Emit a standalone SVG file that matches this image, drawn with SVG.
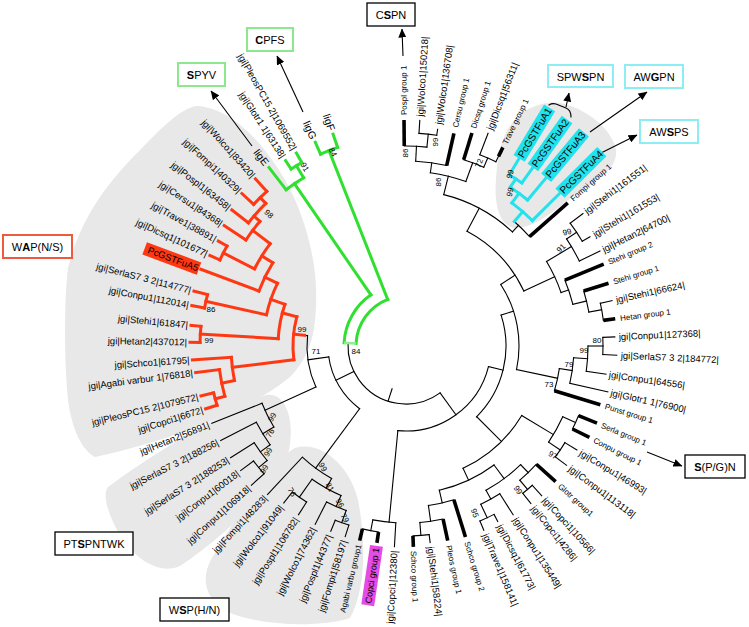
<svg xmlns="http://www.w3.org/2000/svg" width="749" height="627" viewBox="0 0 749 627">
<style>
.k{fill:none;stroke:#000;stroke-width:1.1;stroke-linecap:square}
.t{fill:none;stroke:#000;stroke-width:3.6}
.r{fill:none;stroke:#ff3814;stroke-width:3;stroke-linecap:square}
.gn{fill:none;stroke:#30e030;stroke-width:3;stroke-linecap:square}
.c{fill:none;stroke:#22e2ee;stroke-width:3;stroke-linecap:square}
.lg{fill:none;stroke:#90ee90;stroke-width:2.5}
text{font-family:"Liberation Sans",Arial,Helvetica,sans-serif;fill:#000}
.lb{font-size:9.5px}
.sg{font-size:8px}
.lig{font-size:10.5px}
.bs{font-size:8px;text-anchor:middle}
.e{text-anchor:end}
.bx{font-size:11px;text-anchor:middle}
.bb{fill:#fff;stroke:#000;stroke-width:1.3}
.bg{fill:#fff;stroke:#8de88d;stroke-width:2}
.bc{fill:#fff;stroke:#8ceef2;stroke-width:2}
.brd{fill:#fff;stroke:#ee5a3c;stroke-width:2}
.ar{fill:none;stroke:#000;stroke-width:1.1;marker-end:url(#ah)}
.blob{fill:#e8e8e8}
</style>
<defs>
<marker id="ah" markerWidth="9" markerHeight="8" refX="8.5" refY="4" orient="auto" markerUnits="userSpaceOnUse"><path d="M0,0 L9,4 L0,8 Z" fill="#000"/></marker>
</defs>
<rect width="749" height="627" fill="#fff"/>
<g id="clade-shading">
<path class="blob" d="M197,106 C230,108 262,140 285,180 C305,215 318,262 316,305 C315,335 310,355 292,375 C260,405 175,440 95,457 C82,450 72,430 68,400 C64,360 64,300 68,268 C80,220 105,185 140,150 C160,130 180,108 197,106 Z"/>
<path class="blob" d="M108,487 C150,455 230,408 266,395 C285,392 295,418 289,450 C280,485 220,540 180,566 C160,575 135,560 120,535 C108,515 102,495 108,487 Z"/>
<path class="blob" d="M295,448 C320,440 350,465 358,500 C366,540 366,590 350,618 C320,628 260,626 228,612 C205,600 200,578 212,558 C235,520 268,462 295,448 Z"/>
<path class="blob" d="M503,140 C512,112 540,100 560,103 C585,108 612,128 616,150 C618,168 598,180 575,195 C555,210 535,228 515,228 C498,226 494,200 496,180 C497,162 499,150 503,140 Z"/>
</g>
<g id="connectors" transform="translate(406,346)">
<g class="k">
<circle r="58" transform="rotate(54)" stroke-dasharray="129.57 2000"/>
<line x1="45" x2="58" transform="rotate(108)"/>
<line x1="58" x2="85" transform="rotate(54)"/>
<circle r="85" transform="rotate(14)" stroke-dasharray="120.91 2000"/>
<line x1="85" x2="177" transform="rotate(95.5)"/>
<line x1="85" x2="100" transform="rotate(14)"/>
<circle r="100" transform="rotate(-18)" stroke-dasharray="109.96 2000"/>
<line x1="100" x2="135" transform="rotate(45)"/>
<line x1="100" x2="113" transform="rotate(-18)"/>
<circle r="113" transform="rotate(-33)" stroke-dasharray="88.75 2000"/>
<line x1="113" x2="155" transform="rotate(12)"/>
<line x1="113" x2="130" transform="rotate(-33)"/>
<circle r="130" transform="rotate(-62)" stroke-dasharray="83.95 2000"/>
<line x1="130" x2="164" transform="rotate(-25)"/>
<line x1="130" x2="156" transform="rotate(-62)"/>
<circle r="156" transform="rotate(-76)" stroke-dasharray="78.96 2000"/>
<line x1="156" x2="175" transform="rotate(-76)"/>
<line x1="156" x2="165" transform="rotate(-47)"/>
<line x1="58" x2="78" transform="rotate(154)"/>
<circle r="78" transform="rotate(126.5)" stroke-dasharray="61.94 2000"/>
<line x1="78" x2="152" transform="rotate(126.5)"/>
<line x1="78" x2="99" transform="rotate(172)"/>
<circle r="99" transform="rotate(155.5)" stroke-dasharray="52.70 2000"/>
<line x1="99" x2="155" transform="rotate(155.5)"/>
<line x1="99" x2="102" transform="rotate(186)"/>
<!-- PTSPNTWK clade -->
<circle r="155" transform="rotate(148.5)" stroke-dasharray="26.51 2000"/>
<line x1="155" x2="209" transform="rotate(158.3)"/>
<line x1="155" x2="168" transform="rotate(148.5)"/>
<circle r="168" transform="rotate(144)" stroke-dasharray="26.39 2000"/>
<line x1="168" x2="208" transform="rotate(153)"/>
<line x1="168" x2="180" transform="rotate(144)"/>
<circle r="180" transform="rotate(140.5)" stroke-dasharray="21.99 2000"/>
<line x1="180" x2="208" transform="rotate(147.5)"/>
<line x1="180" x2="191" transform="rotate(140.5)"/>
<circle r="191" transform="rotate(138)" stroke-dasharray="16.67 2000"/>
<line x1="191" x2="207" transform="rotate(143)"/>
<line x1="191" x2="208" transform="rotate(138)"/>
<!-- WSP clade -->
<circle r="152" transform="rotate(119.3)" stroke-dasharray="36.34 2000"/>
<line x1="152" x2="203" transform="rotate(133)"/>
<line x1="152" x2="163" transform="rotate(119.3)"/>
<circle r="163" transform="rotate(113.5)" stroke-dasharray="33.28 2000"/>
<line x1="163" x2="185" transform="rotate(125.2)"/>
<circle r="185" transform="rotate(122.5)" stroke-dasharray="17.44 2000"/>
<line x1="185" x2="200" transform="rotate(122.5)"/>
<line x1="185" x2="199" transform="rotate(127.9)"/>
<line x1="163" x2="175" transform="rotate(113.5)"/>
<circle r="175" transform="rotate(110)" stroke-dasharray="21.38 2000"/>
<line x1="175" x2="200" transform="rotate(117)"/>
<line x1="175" x2="188" transform="rotate(110)"/>
<circle r="188" transform="rotate(107.7)" stroke-dasharray="14.44 2000"/>
<line x1="188" x2="200" transform="rotate(107.7)"/>
<line x1="188" x2="200" transform="rotate(112.1)"/>
<!-- Copci clade -->
<circle r="177" transform="rotate(93.3)" stroke-dasharray="23.17 2000"/>
<line x1="177" x2="201" transform="rotate(93.3)"/>
<line x1="177" x2="188" transform="rotate(100.8)"/>
<circle r="188" transform="rotate(98.4)" stroke-dasharray="16.41 2000"/>
<!-- bottom right -->
<circle r="135" transform="rotate(31)" stroke-dasharray="80.11 2000"/>
<line x1="135" x2="172" transform="rotate(31)"/>
<circle r="172" transform="rotate(24.3)" stroke-dasharray="29.12 2000"/>
<line x1="172" x2="186" transform="rotate(24.3)"/>
<circle r="186" transform="rotate(22)" stroke-dasharray="14.61 2000"/>
<line x1="172" x2="186" transform="rotate(34)"/>
<circle r="186" transform="rotate(31.3)" stroke-dasharray="17.21 2000"/>
<line x1="186" x2="200" transform="rotate(31.3)"/>
<line x1="186" x2="200" transform="rotate(36.6)"/>
<line x1="135" x2="148" transform="rotate(65)"/>
<circle r="148" transform="rotate(53.5)" stroke-dasharray="60.70 2000"/>
<line x1="148" x2="161" transform="rotate(77)"/>
<circle r="161" transform="rotate(72.7)" stroke-dasharray="26.13 2000"/>
<line x1="161" x2="177" transform="rotate(82)"/>
<circle r="177" transform="rotate(77.9)" stroke-dasharray="23.48 2000"/>
<line x1="177" x2="190" transform="rotate(85.5)"/>
<circle r="190" transform="rotate(83)" stroke-dasharray="16.25 2000"/>
<line x1="190" x2="198" transform="rotate(83)"/>
<line x1="148" x2="165" transform="rotate(53.5)"/>
<circle r="165" transform="rotate(46)" stroke-dasharray="43.2 2000"/>
<line x1="165" x2="176" transform="rotate(46)"/>
<circle r="176" transform="rotate(42.2)" stroke-dasharray="23.04 2000"/>
<line x1="176" x2="188" transform="rotate(49.7)"/>
<circle r="188" transform="rotate(47.8)" stroke-dasharray="12.47 2000"/>
<line x1="188" x2="202" transform="rotate(47.8)"/>
<line x1="188" x2="201" transform="rotate(51.6)"/>
<line x1="165" x2="175" transform="rotate(61)"/>
<circle r="175" transform="rotate(57.6)" stroke-dasharray="21.69 2000"/>
<line x1="175" x2="200" transform="rotate(57.6)"/>
<line x1="175" x2="190" transform="rotate(64.7)"/>
<circle r="190" transform="rotate(62.4)" stroke-dasharray="15.59 2000"/>
<line x1="190" x2="198" transform="rotate(62.4)"/>
<line x1="190" x2="200" transform="rotate(67.1)"/>
<!-- Conpu / Punst -->
<circle r="155" transform="rotate(8.4)" stroke-dasharray="22.72 2000"/>
<line x1="155" x2="168" transform="rotate(8.4)"/>
<circle r="168" transform="rotate(4)" stroke-dasharray="25.8 2000"/>
<line x1="168" x2="207" transform="rotate(12.8)"/>
<line x1="168" x2="182" transform="rotate(4)"/>
<circle r="182" transform="rotate(0)" stroke-dasharray="25.41 2000"/>
<line x1="182" x2="202" transform="rotate(8)"/>
<line x1="182" x2="197" transform="rotate(0)"/>
<circle r="197" transform="rotate(-2.5)" stroke-dasharray="17.19 2000"/>
<line x1="197" x2="209" transform="rotate(-2.5)"/>
<line x1="197" x2="211" transform="rotate(2.5)"/>
<!-- Stehi -->
<circle r="164" transform="rotate(-31)" stroke-dasharray="34.35 2000"/>
<line x1="164" x2="193" transform="rotate(-31)"/>
<circle r="193" transform="rotate(-33.7)" stroke-dasharray="25.6 2000"/>
<line x1="193" x2="216" transform="rotate(-26.1)"/>
<line x1="193" x2="205" transform="rotate(-33.7)"/>
<circle r="205" transform="rotate(-36.8)" stroke-dasharray="21.83 2000"/>
<line x1="205" x2="221" transform="rotate(-36.8)"/>
<line x1="205" x2="214" transform="rotate(-30.7)"/>
<line x1="164" x2="172" transform="rotate(-19)"/>
<circle r="172" transform="rotate(-22.5)" stroke-dasharray="25.52 2000"/>
<line x1="172" x2="186" transform="rotate(-14)"/>
<circle r="186" transform="rotate(-17.2)" stroke-dasharray="21.75 2000"/>
<line x1="186" x2="199" transform="rotate(-10.5)"/>
<circle r="199" transform="rotate(-12.4)" stroke-dasharray="17.37 2000"/>
<line x1="199" x2="211" transform="rotate(-12.4)"/>
<!-- cyan base / Fompi -->
<circle r="165" transform="rotate(-49)" stroke-dasharray="21.6 2000"/>
<!-- top clade -->
<circle r="175" transform="rotate(-82)" stroke-dasharray="36.65 2000"/>
<line x1="175" x2="185" transform="rotate(-82)"/>
<circle r="185" transform="rotate(-87)" stroke-dasharray="31.32 2000"/>
<line x1="185" x2="200" transform="rotate(-87)"/>
<circle r="200" transform="rotate(-90.5)" stroke-dasharray="22.69 2000"/>
<line x1="200" x2="213" transform="rotate(-84)"/>
<circle r="213" transform="rotate(-86.5)" stroke-dasharray="17.84 2000"/>
<line x1="213" x2="226" transform="rotate(-86.5)"/>
<line x1="213" x2="219" transform="rotate(-81.7)"/>
<line x1="175" x2="195" transform="rotate(-70)"/>
<circle r="195" transform="rotate(-72.8)" stroke-dasharray="21.44 2000"/>
<line x1="195" x2="205" transform="rotate(-66.5)"/>
<circle r="205" transform="rotate(-68.9)" stroke-dasharray="17.53 2000"/>
<line x1="205" x2="228" transform="rotate(-68.9)"/>
<line x1="205" x2="211" transform="rotate(-64)"/>
</g>
<g class="t">
<line x1="188" x2="199" transform="rotate(98.4)"/>
<line x1="188" x2="200" transform="rotate(103.4)"/>
<line x1="186" x2="206" transform="rotate(22)"/>
<line x1="186" x2="205" transform="rotate(26.5)"/>
<line x1="161" x2="200" transform="rotate(72.7)"/>
<line x1="177" x2="199" transform="rotate(77.9)"/>
<line x1="190" x2="201" transform="rotate(87.9)"/>
<line x1="176" x2="202" transform="rotate(42.2)"/>
<line x1="155" x2="203" transform="rotate(16.8)"/>
<line x1="172" x2="214" transform="rotate(-22.5)"/>
<line x1="186" x2="212" transform="rotate(-17.2)"/>
<line x1="199" x2="211" transform="rotate(-7.4)"/>
<line x1="165" x2="216" transform="rotate(-41.5)"/>
<line x1="185" x2="218" transform="rotate(-77.3)"/>
<line x1="200" x2="226" transform="rotate(-90.5)"/>
<line x1="195" x2="223" transform="rotate(-72.8)"/>
<line x1="211" x2="221" transform="rotate(-64)"/>
</g>
<g class="gn">
<circle r="50" transform="rotate(183)" stroke-dasharray="57.16 2000"/>
<circle r="62" transform="rotate(183)" stroke-dasharray="56.81 2000"/>
<line x1="50" x2="210" transform="rotate(248.5)"/>
<line x1="62" x2="197" transform="rotate(235.5)"/>
<circle r="210" transform="rotate(246)" stroke-dasharray="18.33 2000"/>
<line x1="210" x2="223" transform="rotate(246)"/>
<line x1="210" x2="224" transform="rotate(251)"/>
<circle r="197" transform="rotate(232.5)" stroke-dasharray="21.32 2000"/>
<line x1="197" x2="225" transform="rotate(232.5)"/>
<line x1="197" x2="211" transform="rotate(238.7)"/>
<circle r="211" transform="rotate(237)" stroke-dasharray="12.52 2000"/>
<line x1="211" x2="221" transform="rotate(237)"/>
<line x1="211" x2="222" transform="rotate(240.4)"/>
</g>
<line class="lg" x1="50" x2="62" transform="rotate(183)"/>
<g class="r">
<line x1="102" x2="113" transform="rotate(186)"/>
<circle r="113" transform="rotate(173)" stroke-dasharray="43.39 2000"/>
<line x1="113" x2="128" transform="rotate(195)"/>
<circle r="128" transform="rotate(183.3)" stroke-dasharray="35.07 2000"/>
<line x1="128" x2="206" transform="rotate(183.3)"/>
<circle r="206" transform="rotate(181)" stroke-dasharray="16.18 2000"/>
<line x1="206" x2="216" transform="rotate(181)"/>
<line x1="206" x2="216" transform="rotate(185.5)"/>
<line x1="128" x2="143" transform="rotate(199)"/>
<circle r="143" transform="rotate(192.6)" stroke-dasharray="33.44 2000"/>
<line x1="143" x2="205" transform="rotate(192.6)"/>
<circle r="205" transform="rotate(190.7)" stroke-dasharray="13.6 2000"/>
<line x1="205" x2="218" transform="rotate(190.7)"/>
<line x1="205" x2="219" transform="rotate(194.5)"/>
<line x1="143" x2="157" transform="rotate(206)"/>
<circle r="157" transform="rotate(200.5)" stroke-dasharray="31.51 2000"/>
<line x1="157" x2="219" transform="rotate(200.5)"/>
<line x1="157" x2="170" transform="rotate(212)"/>
<circle r="170" transform="rotate(207)" stroke-dasharray="29.67 2000"/>
<line x1="170" x2="205" transform="rotate(207)"/>
<circle r="205" transform="rotate(204.8)" stroke-dasharray="15.74 2000"/>
<line x1="205" x2="216" transform="rotate(204.8)"/>
<line x1="205" x2="215" transform="rotate(209.2)"/>
<line x1="170" x2="192" transform="rotate(217)"/>
<circle r="192" transform="rotate(213.5)" stroke-dasharray="23.46 2000"/>
<line x1="192" x2="218" transform="rotate(213.5)"/>
<line x1="192" x2="200" transform="rotate(220.5)"/>
<circle r="200" transform="rotate(218)" stroke-dasharray="26.18 2000"/>
<line x1="200" x2="221" transform="rotate(218)"/>
<line x1="200" x2="208" transform="rotate(225.5)"/>
<circle r="208" transform="rotate(222.9)" stroke-dasharray="18.51 2000"/>
<line x1="208" x2="224" transform="rotate(222.9)"/>
<line x1="208" x2="225" transform="rotate(228)"/>
<line x1="113" x2="175" transform="rotate(173)"/>
<circle r="175" transform="rotate(168.6)" stroke-dasharray="23.52 2000"/>
<line x1="175" x2="214" transform="rotate(176.3)"/>
<line x1="175" x2="188" transform="rotate(168.6)"/>
<circle r="188" transform="rotate(164.5)" stroke-dasharray="27.23 2000"/>
<line x1="188" x2="212" transform="rotate(172.8)"/>
<line x1="188" x2="198" transform="rotate(164.5)"/>
<circle r="198" transform="rotate(162.6)" stroke-dasharray="12.79 2000"/>
<line x1="198" x2="210" transform="rotate(162.6)"/>
<line x1="198" x2="211" transform="rotate(166.3)"/>
</g>
<g class="c">
<line x1="165" x2="178" transform="rotate(-49)"/>
<circle r="178" transform="rotate(-53.5)" stroke-dasharray="27.03 2000"/>
<line x1="178" x2="216" transform="rotate(-44.8)"/>
<line x1="178" x2="190" transform="rotate(-53.5)"/>
<circle r="190" transform="rotate(-56.7)" stroke-dasharray="21.56 2000"/>
<line x1="190" x2="218" transform="rotate(-50.2)"/>
<line x1="190" x2="200" transform="rotate(-56.7)"/>
<circle r="200" transform="rotate(-58.9)" stroke-dasharray="15.01 2000"/>
<line x1="200" x2="218" transform="rotate(-58.9)"/>
<line x1="200" x2="218" transform="rotate(-54.6)"/>
</g>
</g>
<g id="arrows">
<path class="k" d="M549,105 Q552,103 556,104 L566,108 Q571,110 571,117"/>
<line class="ar" x1="403" y1="56" x2="402" y2="29"/>
<line class="ar" x1="252" y1="146" x2="211" y2="91"/>
<line class="ar" x1="303" y1="112" x2="277" y2="56"/>
<line class="ar" x1="566" y1="107" x2="569" y2="93"/>
<line class="ar" x1="590" y1="132" x2="647" y2="92"/>
<line class="ar" x1="599" y1="154" x2="637" y2="135"/>
<line class="ar" x1="647" y1="452" x2="682" y2="466"/>
</g>
<g id="box-CSPN"><rect class="bb" x="367" y="3" width="48" height="23"/><text class="bx" x="391" y="19">C<tspan font-weight="bold">S</tspan>PN</text></g>
<g id="box-CPFS"><rect class="bg" x="247" y="28" width="46" height="23"/><text class="bx" x="270" y="44"><tspan font-weight="bold">C</tspan>PFS</text></g>
<g id="box-SPYV"><rect class="bg" x="178" y="63" width="47" height="23"/><text class="bx" x="201.5" y="79"><tspan font-weight="bold">S</tspan>PYV</text></g>
<g id="box-SPWSPN"><rect class="bc" x="548" y="65" width="65" height="22"/><text class="bx" x="580.5" y="80.5">SPW<tspan font-weight="bold">S</tspan>PN</text></g>
<g id="box-AWGPN"><rect class="bc" x="625" y="65" width="58" height="23"/><text class="bx" x="654" y="81">AW<tspan font-weight="bold">G</tspan>PN</text></g>
<g id="box-AWSPS"><rect class="bc" x="640" y="120" width="58" height="23"/><text class="bx" x="669" y="136">AW<tspan font-weight="bold">S</tspan>PS</text></g>
<g id="box-SPGN"><rect class="bb" x="685" y="455" width="60" height="23"/><text class="bx" x="715" y="471"><tspan font-weight="bold">S</tspan>(P/G)N</text></g>
<g id="box-PTSPNTWK"><rect class="bb" x="55" y="532" width="78" height="23"/><text class="bx" x="94" y="548">PT<tspan font-weight="bold">S</tspan>PNTWK</text></g>
<g id="box-WSPHN"><rect class="bb" x="160" y="598" width="69" height="23"/><text class="bx" x="194.5" y="614">W<tspan font-weight="bold">S</tspan>P(H/N)</text></g>
<g id="box-WAPNS"><rect class="brd" x="3" y="235" width="69" height="23"/><text class="bx" x="37.5" y="251">W<tspan font-weight="bold">A</tspan>P(N/S)</text></g>
<g id="leaves">
<g id="l-Pospl-group"><text class="sg" transform="translate(406,346) rotate(-90.5)" x="231" dy=".35em">Pospl group 1</text></g>
<g id="l-Wolco1-150218"><text class="lb" transform="translate(406,346) rotate(-86.5)" x="230" dy=".35em">jgi|Wolco1|150218|</text></g>
<g id="l-Wolco1-136708"><text class="lb" transform="translate(406,346) rotate(-81.7)" x="224" dy=".35em">jgi|Wolco1|136708|</text></g>
<g id="l-Cersu-group"><text class="sg" transform="translate(406,346) rotate(-77.3)" x="224" dy=".35em">Cersu group 1</text></g>
<g id="l-Dicsq-group"><text class="sg" transform="translate(406,346) rotate(-72.8)" x="228" dy=".35em">Dicsq group 1</text></g>
<g id="l-Dicsq1-56311"><text class="lb" transform="translate(406,346) rotate(-68.9)" x="232" dy=".35em">jgi|Dicsq1|56311|</text></g>
<g id="l-Trave-group"><text class="sg" transform="translate(406,346) rotate(-64)" x="225" dy=".35em">Trave group 1</text></g>
<g id="l-PcGSTFuA1" transform="translate(406,346) rotate(-58.9)"><rect x="219" y="-6.5" width="59" height="13" fill="#22e2ee"/><text x="221" dy=".35em" font-size="10">PcGSTFuA1</text></g>
<g id="l-PcGSTFuA2" transform="translate(406,346) rotate(-54.6)"><rect x="219" y="-6.5" width="59" height="13" fill="#22e2ee"/><text x="221" dy=".35em" font-size="10">PcGSTFuA2</text></g>
<g id="l-PcGSTFuA3" transform="translate(406,346) rotate(-50.2)"><rect x="219" y="-6.5" width="59" height="13" fill="#22e2ee"/><text x="221" dy=".35em" font-size="10">PcGSTFuA3</text></g>
<g id="l-PcGSTFuA4" transform="translate(406,346) rotate(-44.8)"><rect x="217" y="-6.5" width="59" height="13" fill="#22e2ee"/><text x="219" dy=".35em" font-size="10">PcGSTFuA4</text></g>
<g id="l-Fompi-group"><text class="sg" transform="translate(406,346) rotate(-41.5)" x="221" dy=".35em">Fompi group 1</text></g>
<g id="l-Stehi1-161551"><text class="lb" transform="translate(406,346) rotate(-36.8)" x="224" dy=".35em">jgi|Stehi1|161551|</text></g>
<g id="l-Stehi1-161553"><text class="lb" transform="translate(406,346) rotate(-30.7)" x="218" dy=".35em">jgi|Stehi1|161553|</text></g>
<g id="l-Hetan2-64700"><text class="lb" transform="translate(406,346) rotate(-26.1)" x="219" dy=".35em">jgi|Hetan2|64700|</text></g>
<g id="l-Stehi-group2"><text class="sg" transform="translate(406,346) rotate(-22.5)" x="219" dy=".35em">Stehi group 2</text></g>
<g id="l-Stehi-group1"><text class="sg" transform="translate(406,346) rotate(-17.2)" x="217" dy=".35em">Stehi group 1</text></g>
<g id="l-Stehi1-66624"><text class="lb" transform="translate(406,346) rotate(-12.4)" x="215" dy=".35em">jgi|Stehi1|66624|</text></g>
<g id="l-Hetan-group1"><text class="sg" transform="translate(406,346) rotate(-7.4)" x="216" dy=".35em">Hetan group 1</text></g>
<g id="l-Conpu1-127368"><text class="lb" transform="translate(406,346) rotate(-2.5)" x="213" dy=".35em">jgi|Conpu1|127368|</text></g>
<g id="l-SerlaS7-184772"><text class="lb" transform="translate(406,346) rotate(2.5)" x="215" dy=".35em">jgi|SerlaS7 3 2|184772|</text></g>
<g id="l-Conpu1-64556"><text class="lb" transform="translate(406,346) rotate(8)" x="205" dy=".35em">jgi|Conpu1|64556|</text></g>
<g id="l-Glotr1-76900"><text class="lb" transform="translate(406,346) rotate(12.8)" x="210" dy=".35em">jgi|Glotr1 1|76900|</text></g>
<g id="l-Punst-group"><text class="sg" transform="translate(406,346) rotate(16.8)" x="208" dy=".35em">Punst group 1</text></g>
<g id="l-Serla-group"><text class="sg" transform="translate(406,346) rotate(22)" x="211" dy=".35em">Serla group 1</text></g>
<g id="l-Conpu-group"><text class="sg" transform="translate(406,346) rotate(26.5)" x="210" dy=".35em">Conpu group 1</text></g>
<g id="l-Conpu1-46993"><text class="lb" transform="translate(406,346) rotate(31.3)" x="204" dy=".35em">jgi|Conpu1|46993|</text></g>
<g id="l-Conpu1-113118"><text class="lb" transform="translate(406,346) rotate(36.6)" x="204" dy=".35em">jgi|Conpu1|113118|</text></g>
<g id="l-Glotr-group"><text class="sg" transform="translate(406,346) rotate(42.2)" x="207" dy=".35em">Glotr group1</text></g>
<g id="l-Copci1-10566"><text class="lb" transform="translate(406,346) rotate(47.8)" x="206" dy=".35em">jgi|Copci1|10566|</text></g>
<g id="l-Copci1-4286"><text class="lb" transform="translate(406,346) rotate(51.6)" x="205" dy=".35em">jgi|Copci1|4286|</text></g>
<g id="l-Conpu1-135449"><text class="lb" transform="translate(406,346) rotate(57.6)" x="204" dy=".35em">jgi|Conpu1|135449|</text></g>
<g id="l-Dicsq1-61773"><text class="lb" transform="translate(406,346) rotate(62.4)" x="202" dy=".35em">jgi|Dicsq1|61773|</text></g>
<g id="l-Trave1-158141"><text class="lb" transform="translate(406,346) rotate(67.1)" x="204" dy=".35em">jgi|Trave1|158141|</text></g>
<g id="l-Schco-group2"><text class="sg" transform="translate(406,346) rotate(72.7)" x="205" dy=".35em">Schco group 2</text></g>
<g id="l-Pleos-group"><text class="sg" transform="translate(406,346) rotate(77.9)" x="204" dy=".35em">Pleos group 1</text></g>
<g id="l-Stehi1-58224"><text class="lb" transform="translate(406,346) rotate(83)" x="202" dy=".35em">jgi|Stehi1|58224|</text></g>
<g id="l-Schco-group1"><text class="sg" transform="translate(406,346) rotate(87.9)" x="205" dy=".35em">Schco group 1</text></g>
<g id="l-Copci1-12380"><text class="lb e" transform="translate(406,346) rotate(-86.7)" x="-205" dy=".35em">jgi|Copci1|12380|</text></g>
<g id="l-Copci-group" transform="translate(406,346) rotate(-81.6)"><rect x="-262" y="-6.5" width="60" height="13" fill="#e54be5"/><text class="e" x="-204" dy=".35em" font-size="9">Copci group 1</text></g>
<g id="l-Agabi-group"><text class="sg e" transform="translate(406,346) rotate(-76.6)" x="-204" dy=".35em">Agabi varbu group1</text></g>
<g id="l-Fompi1-58197"><text class="lb e" transform="translate(406,346) rotate(-72.3)" x="-204" dy=".35em">jgi|Fompi1|58197|</text></g>
<g id="l-Pospl1-44377"><text class="lb e" transform="translate(406,346) rotate(-67.9)" x="-204" dy=".35em">jgi|Pospl1|44377|</text></g>
<g id="l-Wolco1-74362"><text class="lb e" transform="translate(406,346) rotate(-63)" x="-204" dy=".35em">jgi|Wolco1|74362|</text></g>
<g id="l-Pospl1-106782"><text class="lb e" transform="translate(406,346) rotate(-57.5)" x="-204" dy=".35em">jgi|Pospl1|106782|</text></g>
<g id="l-Wolco1-91049"><text class="lb e" transform="translate(406,346) rotate(-52.1)" x="-203" dy=".35em">jgi|Wolco1|91049|</text></g>
<g id="l-Fompi1-48283"><text class="lb e" transform="translate(406,346) rotate(-47)" x="-206" dy=".35em">jgi|Fompi1|48283|</text></g>
<g id="l-Conpu1-106918"><text class="lb e" transform="translate(406,346) rotate(-42)" x="-211" dy=".35em">jgi|Conpu1|106918|</text></g>
<g id="l-Conpu1-60018"><text class="lb e" transform="translate(406,346) rotate(-37)" x="-210" dy=".35em">jgi|Conpu1|60018|</text></g>
<g id="l-SerlaS7-188253"><text class="lb e" transform="translate(406,346) rotate(-32.5)" x="-211" dy=".35em">jgi|SerlaS7 3 2|188253|</text></g>
<g id="l-SerlaS7-188256"><text class="lb e" transform="translate(406,346) rotate(-27)" x="-211" dy=".35em">jgi|SerlaS7 3 2|188256|</text></g>
<g id="l-Hetan2-56891"><text class="lb e" transform="translate(406,346) rotate(-21.7)" x="-212" dy=".35em">jgi|Hetan2|56891|</text></g>
<g id="l-Copci1-6672"><text class="lb e" transform="translate(406,346) rotate(-17.4)" x="-213" dy=".35em">jgi|Copci1|6672|</text></g>
<g id="l-PleosPC15-1079572"><text class="lb e" transform="translate(406,346) rotate(-13.7)" x="-214" dy=".35em">jgi|PleosPC15 2|1079572|</text></g>
<g id="l-Agabi-76818"><text class="lb e" transform="translate(406,346) rotate(-7.2)" x="-215" dy=".35em">jgi|Agabi varbur 1|76818|</text></g>
<g id="l-Schco1-61795"><text class="lb e" transform="translate(406,346) rotate(-3.7)" x="-217" dy=".35em">jgi|Schco1|61795|</text></g>
<g id="l-Hetan2-437012"><text class="lb e" transform="translate(406,346) rotate(1)" x="-219" dy=".35em">jgi|Hetan2|437012|</text></g>
<g id="l-Stehi1-61847"><text class="lb e" transform="translate(406,346) rotate(5.5)" x="-219" dy=".35em">jgi|Stehi1|61847|</text></g>
<g id="l-Conpu1-112014"><text class="lb e" transform="translate(406,346) rotate(10.7)" x="-221" dy=".35em">jgi|Conpu1|112014|</text></g>
<g id="l-SerlaS7-114777"><text class="lb e" transform="translate(406,346) rotate(14.5)" x="-222" dy=".35em">jgi|SerlaS7 3 2|114777|</text></g>
<g id="l-PcGSTFuA5" transform="translate(406,346) rotate(20.5)"><rect x="-279" y="-6.5" width="58" height="13" fill="#ff3814"/><text class="e" x="-222" dy=".35em" font-size="9.5">PcGSTFuA5</text></g>
<g id="l-Dicsq1-101677"><text class="lb e" transform="translate(406,346) rotate(24.8)" x="-219" dy=".35em">jgi|Dicsq1|101677|</text></g>
<g id="l-Trave1-38891"><text class="lb e" transform="translate(406,346) rotate(29.2)" x="-218" dy=".35em">jgi|Trave1|38891|</text></g>
<g id="l-Cersu1-84368"><text class="lb e" transform="translate(406,346) rotate(33.5)" x="-221" dy=".35em">jgi|Cersu1|84368|</text></g>
<g id="l-Pospl1-63458"><text class="lb e" transform="translate(406,346) rotate(38)" x="-224" dy=".35em">jgi|Pospl1|63458|</text></g>
<g id="l-Fompi1-40329"><text class="lb e" transform="translate(406,346) rotate(42.9)" x="-227" dy=".35em">jgi|Fompi1|40329|</text></g>
<g id="l-Wolco1-83420"><text class="lb e" transform="translate(406,346) rotate(48)" x="-228" dy=".35em">jgi|Wolco1|83420|</text></g>
<g id="l-ligE"><text class="lig e" transform="translate(406,346) rotate(52.5)" x="-229" dy=".35em">ligE</text></g>
<g id="l-Glotr1-63138"><text class="lb e" transform="translate(406,346) rotate(57)" x="-225" dy=".35em">jgi|Glotr1 1|63138|</text></g>
<g id="l-PleosPC15-1069552"><text class="lb e" transform="translate(406,346) rotate(60.4)" x="-226" dy=".35em">jgi|PleosPC15 2|1069552|</text></g>
<g id="l-ligG"><text class="lig e" transform="translate(406,346) rotate(66)" x="-227" dy=".35em">ligG</text></g>
<g id="l-ligF"><text class="lig e" transform="translate(406,346) rotate(71)" x="-228" dy=".35em">ligF</text></g>
</g>
<g id="support-values">
<text class="bs" x="405" y="153" dy=".35em" transform="rotate(-90 405 153)">86</text>
<text class="bs" x="435" y="142" dy=".35em" transform="rotate(-90 435 142)">99</text>
<text class="bs" x="438" y="182" dy=".35em" transform="rotate(-90 438 182)">86</text>
<text class="bs" x="479" y="163" dy=".35em" transform="rotate(-70 479 163)">72</text>
<text class="bs" x="510" y="174" dy=".35em" transform="rotate(-75 510 174)">99</text>
<text class="bs" x="510" y="192" dy=".35em" transform="rotate(-78 510 192)">99</text>
<text class="bs" x="567" y="232" dy=".35em" transform="rotate(-15 567 232)">99</text>
<text class="bs" x="561" y="248" dy=".35em" transform="rotate(-45 561 248)">91</text>
<text class="bs" x="597" y="340" dy=".35em">80</text>
<text class="bs" x="584" y="350" dy=".35em">99</text>
<text class="bs" x="569" y="364" dy=".35em">79</text>
<text class="bs" x="549" y="384" dy=".35em">73</text>
<text class="bs" x="553" y="455" dy=".35em" transform="rotate(30 553 455)">97</text>
<text class="bs" x="518" y="490" dy=".35em" transform="rotate(55 518 490)">99</text>
<text class="bs" x="475" y="513" dy=".35em" transform="rotate(70 475 513)">95</text>
<text class="bs" x="323" y="467" dy=".35em" transform="rotate(60 323 467)">99</text>
<text class="bs" x="330" y="487" dy=".35em" transform="rotate(60 330 487)">81</text>
<text class="bs" x="340" y="503" dy=".35em" transform="rotate(60 340 503)">96</text>
<text class="bs" x="345" y="518" dy=".35em" transform="rotate(60 345 518)">79</text>
<text class="bs" x="292" y="492" dy=".35em" transform="rotate(60 292 492)">76</text>
<text class="bs" x="272" y="417" dy=".35em" transform="rotate(-60 272 417)">99</text>
<text class="bs" x="270" y="433" dy=".35em" transform="rotate(-60 270 433)">76</text>
<text class="bs" x="268" y="452" dy=".35em" transform="rotate(-60 268 452)">99</text>
<text class="bs" x="264" y="469" dy=".35em" transform="rotate(-60 264 469)">99</text>
<text class="bs" x="269" y="214" dy=".35em" transform="rotate(45 269 214)">98</text>
<text class="bs" x="211" y="309" dy=".35em">86</text>
<text class="bs" x="209" y="340" dy=".35em">99</text>
<text class="bs" x="302" y="329" dy=".35em">99</text>
<text class="bs" x="316" y="351" dy=".35em">71</text>
<text class="bs" x="356" y="351" dy=".35em">84</text>
<text class="bs" x="305" y="167" dy=".35em" transform="rotate(60 305 167)">91</text>
<text class="bs" x="333" y="152" dy=".35em" transform="rotate(65 333 152)">84</text>
</g>
</svg>
